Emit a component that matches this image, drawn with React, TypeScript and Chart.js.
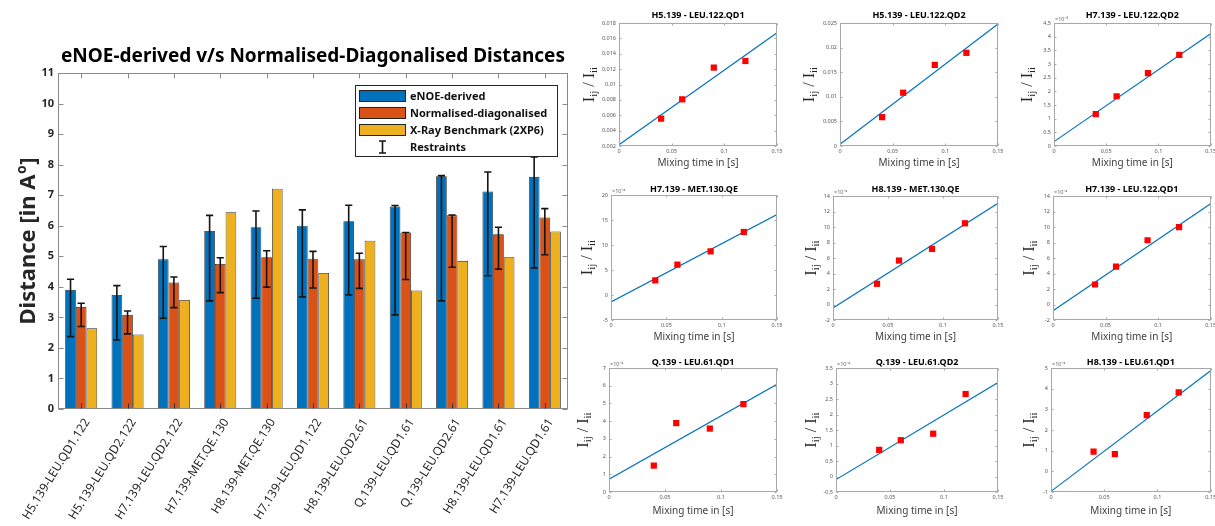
import React, { useEffect, useRef } from "react";
import { Chart, registerables } from "chart.js";

Chart.register(...registerables);

// ---------------- Main bar chart data ----------------
const pairLabels = [
  "H5.139-LEU.QD1.122",
  "H5.139-LEU.QD2.122",
  "H7.139-LEU.QD2.122",
  "H7.139-MET.QE.130",
  "H8.139-MET.QE.130",
  "H7.139-LEU.QD1.122",
  "H8.139-LEU.QD2.61",
  "Q.139-LEU.QD1.61",
  "Q.139-LEU.QD2.61",
  "H8.139-LEU.QD1.61",
  "H7.139-LEU.QD1.61",
];
const enoeDerived = [3.9, 3.73, 4.9, 5.83, 5.95, 6.0, 6.15, 6.63, 7.62, 7.12, 7.6];
const normalisedDiag = [3.34, 3.08, 4.14, 4.75, 4.97, 4.92, 4.9, 5.78, 6.34, 5.72, 6.27];
const xrayBenchmark = [2.64, 2.44, 3.57, 6.44, 7.21, 4.45, 5.51, 3.88, 4.85, 4.97, 5.81];
const enoeLow = [2.37, 2.26, 2.97, 3.54, 3.63, 3.67, 3.73, 3.08, 3.54, 4.36, 4.62];
const enoeHigh = [4.25, 4.04, 5.32, 6.34, 6.48, 6.52, 6.67, 6.66, 7.64, 7.76, 8.25];
const normLow = [2.7, 2.46, 3.32, 3.81, 3.99, 3.96, 3.95, 4.24, 4.64, 4.58, 5.05];
const normHigh = [3.46, 3.21, 4.32, 4.95, 5.18, 5.16, 5.1, 5.78, 6.35, 5.95, 6.56];
const distanceTicks = [0, 1, 2, 3, 4, 5, 6, 7, 8, 9, 10, 11];
const legendLabels = ["eNOE-derived", "Normalised-diagonalised", "X-Ray Benchmark (2XP6)", "Restraints"];
const barColors = ["#0072BD", "#D95319", "#EDB120"];

// ---------------- Build-up curve data ----------------
const mixingTimes = [0.04, 0.06, 0.09, 0.12];
const fitTimes = [0, 0.15];
const mixingTicks = [0, 0.05, 0.1, 0.15];

const h5Leu122Qd1 = [0.00556, 0.00807, 0.0122, 0.01306];
const h5Leu122Qd1Fit = [0.00217, 0.01674];
const h5Leu122Qd1Ticks = [0.002, 0.004, 0.006, 0.008, 0.01, 0.012, 0.014, 0.016, 0.018];

const h5Leu122Qd2 = [0.00586, 0.01083, 0.01648, 0.01894];
const h5Leu122Qd2Fit = [0.00034, 0.0248];
const h5Leu122Qd2Ticks = [0, 0.005, 0.01, 0.015, 0.02, 0.025];

// values below in units of 1e-3
const h7Leu122Qd2 = [1.17, 1.82, 2.67, 3.33];
const h7Leu122Qd2Fit = [0.16, 4.11];
const h7Leu122Qd2Ticks = [0, 0.5, 1, 1.5, 2, 2.5, 3, 3.5, 4, 4.5];

// values below in units of 1e-4
const h7Met130Qe = [2.93, 6.07, 8.73, 12.6];
const h7Met130QeFit = [-1.4, 16.07];
const h7Met130QeTicks = [-5, 0, 5, 10, 15, 20];

const h8Met130Qe = [2.67, 5.67, 7.18, 10.48];
const h8Met130QeFit = [-0.46, 13.06];
const h8Met130QeTicks = [-2, 0, 2, 4, 6, 8, 10, 12, 14];

const h7Leu122Qd1 = [2.58, 4.9, 8.29, 9.97];
const h7Leu122Qd1Fit = [-0.8, 13.0];
const h7Leu122Qd1Ticks = [-2, 0, 2, 4, 6, 8, 10, 12, 14];

const qLeu61Qd1 = [1.49, 3.89, 3.58, 4.96];
const qLeu61Qd1Fit = [0.72, 6.08];
const qLeu61Qd1Ticks = [0, 1, 2, 3, 4, 5, 6, 7];

const qLeu61Qd2 = [0.86, 1.17, 1.38, 2.66];
const qLeu61Qd2Fit = [-0.1, 3.03];
const qLeu61Qd2Ticks = [-0.5, 0, 0.5, 1, 1.5, 2, 2.5, 3, 3.5];

const h8Leu61Qd1 = [0.95, 0.83, 2.72, 3.82];
const h8Leu61Qd1Fit = [-0.97, 4.87];
const h8Leu61Qd1Ticks = [-1, 0, 1, 2, 3, 4, 5];

const FONT = '"Noto Sans", "DejaVu Sans", sans-serif';
const SERIF = '"Liberation Serif", "DejaVu Serif", serif';

type Small = {
  title: string;
  cell: number[]; // x, y, w, h
  plot: number[]; // left, right, top, bottom
  values: number[];
  fit: number[];
  ticks: number[];
  exp: string;
  titleY: number;
  xLabelY: number;
  yLabelX: number;
};

const smallCharts: Small[] = [
  { title: "H5.139 - LEU.122.QD1", cell: [570, 0, 220, 170], plot: [619, 777, 23, 146], values: h5Leu122Qd1, fit: h5Leu122Qd1Fit, ticks: h5Leu122Qd1Ticks, exp: "", titleY: 15, xLabelY: 163, yLabelX: 589 },
  { title: "H5.139 - LEU.122.QD2", cell: [790, 0, 215, 170], plot: [840, 998, 23, 146], values: h5Leu122Qd2, fit: h5Leu122Qd2Fit, ticks: h5Leu122Qd2Ticks, exp: "", titleY: 15, xLabelY: 163, yLabelX: 809 },
  { title: "H7.139 - LEU.122.QD2", cell: [1005, 0, 210, 170], plot: [1054, 1213, 23, 146], values: h7Leu122Qd2, fit: h7Leu122Qd2Fit, ticks: h7Leu122Qd2Ticks, exp: "×10⁻³", titleY: 15, xLabelY: 163, yLabelX: 1027 },
  { title: "H7.139 - MET.130.QE", cell: [570, 170, 220, 175], plot: [611, 777, 195, 320], values: h7Met130Qe, fit: h7Met130QeFit, ticks: h7Met130QeTicks, exp: "×10⁻⁴", titleY: 189, xLabelY: 337, yLabelX: 587 },
  { title: "H8.139 - MET.130.QE", cell: [790, 170, 215, 175], plot: [833, 998, 196, 320], values: h8Met130Qe, fit: h8Met130QeFit, ticks: h8Met130QeTicks, exp: "×10⁻⁴", titleY: 189, xLabelY: 337, yLabelX: 811 },
  { title: "H7.139 - LEU.122.QD1", cell: [1005, 170, 210, 175], plot: [1053, 1213, 196, 320], values: h7Leu122Qd1, fit: h7Leu122Qd1Fit, ticks: h7Leu122Qd1Ticks, exp: "×10⁻⁴", titleY: 189, xLabelY: 337, yLabelX: 1029 },
  { title: "Q.139 - LEU.61.QD1", cell: [570, 345, 220, 181], plot: [609, 777, 368, 492], values: qLeu61Qd1, fit: qLeu61Qd1Fit, ticks: qLeu61Qd1Ticks, exp: "×10⁻⁴", titleY: 362, xLabelY: 511, yLabelX: 583 },
  { title: "Q.139 - LEU.61.QD2", cell: [790, 345, 215, 181], plot: [836, 998, 368, 492], values: qLeu61Qd2, fit: qLeu61Qd2Fit, ticks: qLeu61Qd2Ticks, exp: "×10⁻⁴", titleY: 362, xLabelY: 511, yLabelX: 811 },
  { title: "H8.139 - LEU.61.QD1", cell: [1005, 345, 210, 181], plot: [1051, 1213, 368, 492], values: h8Leu61Qd1, fit: h8Leu61Qd1Fit, ticks: h8Leu61Qd1Ticks, exp: "×10⁻⁴", titleY: 362, xLabelY: 511, yLabelX: 1029 },
];

const fmt = (v: number) => String(Number(Number(v).toFixed(5)));

// ---------------- Main chart config ----------------
const BAR_W = 575;
const BAR_H = 526;
const BAR_PLOT = { left: 58, right: 568, top: 73, bottom: 409 };

function barConfig(): any {
  const decor = {
    id: "barDecor",
    afterDraw(chart: any) {
      const { ctx, chartArea: a } = chart;
      const ys = chart.scales.y;
      const xs = chart.scales.x;
      ctx.save();

      // error bars (restraints)
      ctx.strokeStyle = "#151515";
      ctx.lineWidth = 1.6;
      const errs: [number, number[], number[]][] = [
        [0, enoeLow, enoeHigh],
        [1, normLow, normHigh],
      ];
      for (const [di, lo, hi] of errs) {
        const meta = chart.getDatasetMeta(di);
        meta.data.forEach((el: any, i: number) => {
          const cx = el.x;
          const y1 = ys.getPixelForValue(lo[i]);
          const y2 = ys.getPixelForValue(hi[i]);
          const cap = 3.6;
          ctx.beginPath();
          ctx.moveTo(cx, y1);
          ctx.lineTo(cx, y2);
          ctx.moveTo(cx - cap, y1);
          ctx.lineTo(cx + cap, y1);
          ctx.moveTo(cx - cap, y2);
          ctx.lineTo(cx + cap, y2);
          ctx.stroke();
        });
      }

      // axes box
      const L = Math.round(a.left) + 0.5;
      const R = Math.round(a.right) - 0.5;
      const T = Math.round(a.top) + 0.5;
      const B = Math.round(a.bottom) - 0.5;
      ctx.strokeStyle = "#8a8a8a";
      ctx.lineWidth = 1;
      ctx.strokeRect(L, T, R - L, B - T);
      ctx.beginPath();
      distanceTicks.forEach((v) => {
        const py = Math.round(ys.getPixelForValue(v)) + 0.5;
        ctx.moveTo(L, py);
        ctx.lineTo(L + 5, py);
        ctx.moveTo(R, py);
        ctx.lineTo(R - 5, py);
      });
      pairLabels.forEach((_, i) => {
        const px = Math.round(xs.getPixelForValue(i)) + 0.5;
        ctx.moveTo(px, T);
        ctx.lineTo(px, T + 5);
      });
      ctx.stroke();
      ctx.strokeStyle = "#333";
      ctx.beginPath();
      pairLabels.forEach((_, i) => {
        const px = Math.round(xs.getPixelForValue(i)) + 0.5;
        ctx.moveTo(px, B);
        ctx.lineTo(px, B - 5);
      });
      ctx.stroke();

      // title
      ctx.fillStyle = "#000";
      ctx.font = `bold 19px ${FONT}`;
      ctx.textAlign = "center";
      ctx.textBaseline = "middle";
      ctx.fillText("eNOE-derived v/s Normalised-Diagonalised Distances", (a.left + a.right) / 2, 57);

      // y axis title with superscript
      ctx.save();
      ctx.translate(27, (a.top + a.bottom) / 2);
      ctx.rotate(-Math.PI / 2);
      ctx.fillStyle = "#262626";
      ctx.textAlign = "left";
      ctx.textBaseline = "alphabetic";
      const mainF = `bold 22px ${FONT}`;
      const supF = `bold 14px ${FONT}`;
      ctx.font = mainF;
      const w1 = ctx.measureText("Distance [in A").width;
      const w3 = ctx.measureText("]").width;
      ctx.font = supF;
      const w2 = ctx.measureText("o").width + 1;
      const x0 = -(w1 + w2 + w3) / 2;
      ctx.font = mainF;
      ctx.fillText("Distance [in A", x0, 8);
      ctx.font = supF;
      ctx.fillText("o", x0 + w1 + 0.5, -1);
      ctx.font = mainF;
      ctx.fillText("]", x0 + w1 + w2, 8);
      ctx.restore();

      // legend
      const lx = 355.5, ly = 85.5, lw = 202, lh = 71;
      ctx.fillStyle = "#fff";
      ctx.fillRect(lx, ly, lw, lh);
      ctx.strokeStyle = "#262626";
      ctx.lineWidth = 1;
      ctx.strokeRect(lx, ly, lw, lh);
      const rowY = [96, 113, 130, 147];
      ctx.font = `bold 11px ${FONT}`;
      ctx.textAlign = "left";
      ctx.textBaseline = "middle";
      legendLabels.forEach((lab, i) => {
        const cy = rowY[i];
        if (i < 3) {
          ctx.fillStyle = barColors[i];
          ctx.fillRect(359, cy - 6, 47, 12);
          ctx.strokeStyle = "#222";
          ctx.strokeRect(359.5, cy - 5.5, 46, 11);
        } else {
          ctx.strokeStyle = "#151515";
          ctx.lineWidth = 1.6;
          ctx.beginPath();
          ctx.moveTo(382.5, cy - 6);
          ctx.lineTo(382.5, cy + 6);
          ctx.moveTo(379, cy - 6);
          ctx.lineTo(386, cy - 6);
          ctx.moveTo(379, cy + 6);
          ctx.lineTo(386, cy + 6);
          ctx.stroke();
          ctx.lineWidth = 1;
        }
        ctx.fillStyle = "#111";
        ctx.fillText(lab, 410, cy + 0.5);
      });
      ctx.restore();
    },
  };

  const ds = (label: string, data: number[], color: string) => ({
    label,
    data,
    backgroundColor: color,
    borderColor: "#262626",
    borderWidth: 0.8,
    borderSkipped: false,
    categoryPercentage: 0.69,
    barPercentage: 1,
  });

  return {
    type: "bar",
    data: {
      labels: pairLabels,
      datasets: [
        ds(legendLabels[0], enoeDerived, barColors[0]),
        ds(legendLabels[1], normalisedDiag, barColors[1]),
        ds(legendLabels[2], xrayBenchmark, barColors[2]),
      ],
    },
    options: {
      animation: false,
      responsive: false,
      events: [],
      layout: { padding: { top: BAR_PLOT.top, right: BAR_W - BAR_PLOT.right, left: 0, bottom: 0 } },
      plugins: { legend: { display: false }, tooltip: { enabled: false }, title: { display: false } },
      scales: {
        x: {
          offset: true,
          grid: { display: false, drawTicks: false },
          border: { display: false },
          ticks: {
            autoSkip: false,
            minRotation: 58,
            maxRotation: 58,
            padding: 7,
            labelOffset: 6,
            color: "#262626",
            font: { family: FONT, size: 12 },
          },
          afterFit: (s: any) => {
            s.height = BAR_H - BAR_PLOT.bottom;
            s.paddingLeft = 0;
            s.paddingRight = 0;
          },
        },
        y: {
          min: 0,
          max: 11,
          grid: { display: false, drawTicks: false },
          border: { display: false },
          afterBuildTicks: (s: any) => {
            s.ticks = distanceTicks.map((v) => ({ value: v }));
          },
          ticks: {
            autoSkip: false,
            padding: 4,
            color: "#262626",
            font: { family: FONT, size: 11, weight: "bold" },
          },
          afterFit: (s: any) => {
            s.width = BAR_PLOT.left;
            s.paddingTop = 0;
            s.paddingBottom = 0;
          },
        },
      },
    },
    plugins: [decor],
  };
}

// ---------------- Small chart config ----------------
function smallConfig(sp: Small): any {
  const [cx, cy, cw, ch] = sp.cell;
  const [pl, pr, pt, pb] = sp.plot;
  const decor = {
    id: "smallDecor",
    afterDraw(chart: any) {
      const { ctx, chartArea: a } = chart;
      const xs = chart.scales.x;
      const ys = chart.scales.y;
      ctx.save();
      const L = Math.round(a.left) + 0.5;
      const R = Math.round(a.right) - 0.5;
      const T = Math.round(a.top) + 0.5;
      const B = Math.round(a.bottom) - 0.5;
      ctx.strokeStyle = "#a8a8a8";
      ctx.lineWidth = 1;
      ctx.strokeRect(L, T, R - L, B - T);
      ctx.beginPath();
      sp.ticks.forEach((v) => {
        const py = Math.round(ys.getPixelForValue(v)) + 0.5;
        ctx.moveTo(L, py);
        ctx.lineTo(L + 2, py);
        ctx.moveTo(R, py);
        ctx.lineTo(R - 2, py);
      });
      mixingTicks.forEach((v) => {
        const px = Math.round(xs.getPixelForValue(v)) + 0.5;
        ctx.moveTo(px, T);
        ctx.lineTo(px, T + 2);
        ctx.moveTo(px, B);
        ctx.lineTo(px, B - 2);
      });
      ctx.stroke();

      const mid = (a.left + a.right) / 2;
      // title
      ctx.fillStyle = "#000";
      ctx.font = `bold 9px ${FONT}`;
      ctx.textAlign = "center";
      ctx.textBaseline = "middle";
      ctx.fillText(sp.title, mid, sp.titleY - cy);
      // x label
      ctx.fillStyle = "#404040";
      ctx.font = `10px ${FONT}`;
      ctx.fillText("Mixing time in [s]", mid, sp.xLabelY - cy);
      // exponent
      if (sp.exp) {
        ctx.fillStyle = "#666";
        ctx.font = `5.5px ${FONT}`;
        ctx.textAlign = "left";
        ctx.textBaseline = "alphabetic";
        ctx.fillText(sp.exp, a.left + 1, a.top - 2);
      }
      // y label: I_ij / I_ii
      ctx.save();
      ctx.translate(sp.yLabelX - cx, (a.top + a.bottom) / 2);
      ctx.rotate(-Math.PI / 2);
      ctx.fillStyle = "#262626";
      ctx.textAlign = "left";
      ctx.textBaseline = "alphabetic";
      const big = `16px ${SERIF}`;
      const sub = `11px ${SERIF}`;
      const parts: [string, string, number][] = [
        ["I", big, 0],
        ["ij", sub, 3.5],
        [" / ", big, 0],
        ["I", big, 0],
        ["ii", sub, 3.5],
      ];
      let total = 0;
      const widths = parts.map(([t, f]) => {
        ctx.font = f;
        const w = ctx.measureText(t).width;
        total += w;
        return w;
      });
      let x = -total / 2;
      parts.forEach(([t, f, dy], i) => {
        ctx.font = f;
        ctx.fillText(t, x, 4.5 + dy);
        x += widths[i];
      });
      ctx.restore();
      ctx.restore();
    },
  };

  return {
    type: "scatter",
    data: {
      datasets: [
        {
          data: mixingTimes.map((t, i) => ({ x: t, y: sp.values[i] })),
          pointStyle: "rect",
          pointRadius: 4.4,
          backgroundColor: "#ff0000",
          borderColor: "#ff0000",
          borderWidth: 0,
          showLine: false,
        },
        {
          data: fitTimes.map((t, i) => ({ x: t, y: sp.fit[i] })),
          showLine: true,
          borderColor: "#0072BD",
          borderWidth: 1.2,
          pointRadius: 0,
          fill: false,
        },
      ],
    },
    options: {
      animation: false,
      responsive: false,
      events: [],
      layout: { padding: { top: pt - cy, right: cx + cw - pr, left: 0, bottom: 0 } },
      plugins: { legend: { display: false }, tooltip: { enabled: false } },
      scales: {
        x: {
          type: "linear",
          min: 0,
          max: 0.15,
          grid: { display: false, drawTicks: false },
          border: { display: false },
          afterBuildTicks: (s: any) => {
            s.ticks = mixingTicks.map((v) => ({ value: v }));
          },
          ticks: {
            autoSkip: false,
            maxRotation: 0,
            padding: 2,
            color: "#555",
            font: { family: FONT, size: 5.5 },
            callback: (v: any) => fmt(v),
          },
          afterFit: (s: any) => {
            s.height = cy + ch - pb;
            s.paddingLeft = 0;
            s.paddingRight = 0;
          },
        },
        y: {
          type: "linear",
          min: sp.ticks[0],
          max: sp.ticks[sp.ticks.length - 1],
          grid: { display: false, drawTicks: false },
          border: { display: false },
          afterBuildTicks: (s: any) => {
            s.ticks = sp.ticks.map((v) => ({ value: v }));
          },
          ticks: {
            autoSkip: false,
            padding: 3,
            color: "#555",
            font: { family: FONT, size: 5.5 },
            callback: (v: any) => fmt(v),
          },
          afterFit: (s: any) => {
            s.width = pl - cx;
            s.paddingTop = 0;
            s.paddingBottom = 0;
          },
        },
      },
    },
    plugins: [decor],
  };
}

function ChartCanvas(props: { left: number; top: number; width: number; height: number; make: () => any }) {
  const ref = useRef<HTMLCanvasElement>(null);
  useEffect(() => {
    if (!ref.current) return;
    const chart = new Chart(ref.current, props.make());
    return () => chart.destroy();
  }, []);
  return (
    <canvas
      ref={ref}
      width={props.width}
      height={props.height}
      style={{ position: "absolute", left: props.left, top: props.top, width: props.width, height: props.height }}
    />
  );
}

export default function App() {
  return (
    <div
      style={{
        position: "fixed",
        left: 0,
        top: 0,
        width: 1215,
        height: 526,
        background: "#fff",
        overflow: "hidden",
      }}
    >
      <ChartCanvas left={0} top={0} width={BAR_W} height={BAR_H} make={barConfig} />
      {smallCharts.map((sp, i) => (
        <ChartCanvas
          key={i}
          left={sp.cell[0]}
          top={sp.cell[1]}
          width={sp.cell[2]}
          height={sp.cell[3]}
          make={() => smallConfig(sp)}
        />
      ))}
    </div>
  );
}
